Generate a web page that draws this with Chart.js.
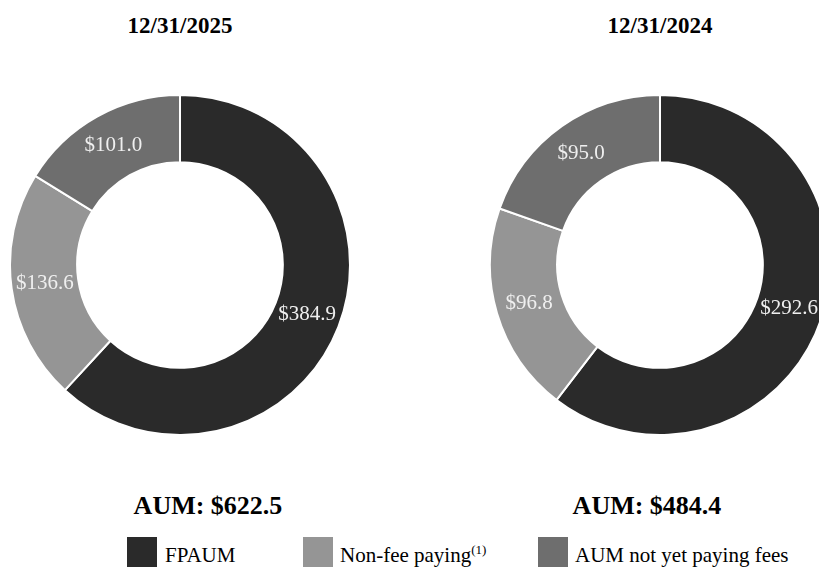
<!DOCTYPE html>
<html lang="en">
<head>
    <meta charset="UTF-8">
    <title>AUM breakdown</title>
    <script src="https://cdn.jsdelivr.net/npm/chart.js"></script>
    <style>
        body { margin: 0; background: #fff; }
        #wrap { position: relative; width: 819px; height: 567px; overflow: hidden; font-family: "Liberation Serif", "Times New Roman", serif; color: #000; }
        .abs { position: absolute; line-height: 1; white-space: nowrap; }
        .date { font-weight: bold; font-size: 23px; top: 14px; width: 200px; text-align: center; }
        .total { font-weight: bold; font-size: 26px; top: 493px; width: 240px; text-align: center; }
        .sw { position: absolute; top: 537px; width: 30px; height: 30px; }
        .lg { font-size: 21px; top: 545px; }
        .lg sup { font-size: 13px; vertical-align: 8px; line-height: 0; }
        canvas { position: absolute; top: 94px; }
    </style>
</head>
<body>
<div id="wrap">
    <div class="abs date" style="left: 80px;">12/31/2025</div>
    <div class="abs date" style="left: 560px;">12/31/2024</div>

    <canvas id="c2025" width="342" height="342" style="left: 9px;"></canvas>
    <canvas id="c2024" width="342" height="342" style="left: 489px;"></canvas>

    <div class="abs total" style="left: 88px;">AUM: $622.5</div>
    <div class="abs total" style="left: 527px;">AUM: $484.4</div>

    <div class="sw" style="left: 127px; background: #2a2a2a;"></div>
    <div class="abs lg" style="left: 165px;">FPAUM</div>
    <div class="sw" style="left: 303px; background: #959595;"></div>
    <div class="abs lg" style="left: 340px;">Non-fee paying<sup>(1)</sup></div>
    <div class="sw" style="left: 538px; background: #6e6e6e;"></div>
    <div class="abs lg" style="left: 575px;">AUM not yet paying fees</div>
</div>

<script>
    const categories = ['FPAUM', 'Non-fee paying', 'AUM not yet paying fees'];
    const values2025 = [384.9, 136.6, 101.0];
    const values2024 = [292.6, 96.8, 95.0];
    const colors = ['#2a2a2a', '#959595', '#6e6e6e'];

    // writes "$x.x" in the middle of each slice
    const sliceLabels = {
        id: 'sliceLabels',
        afterDatasetsDraw(chart) {
            const ctx = chart.ctx;
            const meta = chart.getDatasetMeta(0);
            const data = chart.data.datasets[0].data;
            ctx.save();
            ctx.font = '21px "Liberation Serif", serif';
            ctx.fillStyle = '#efefef';
            ctx.textAlign = 'center';
            ctx.textBaseline = 'middle';
            meta.data.forEach((arc, i) => {
                const p = arc.tooltipPosition();
                ctx.fillText('$' + data[i].toFixed(1), p.x, p.y);
            });
            ctx.restore();
        }
    };

    function donut(id, values) {
        new Chart(document.getElementById(id), {
            type: 'doughnut',
            data: {
                labels: categories,
                datasets: [{
                    data: values,
                    backgroundColor: colors,
                    borderColor: '#ffffff',
                    borderWidth: 2,
                    hoverOffset: 0,
                    offset: 0
                }]
            },
            options: {
                responsive: false,
                animation: false,
                cutout: '60.5%',
                layout: { padding: 0 },
                plugins: {
                    legend: { display: false },
                    tooltip: { enabled: false }
                }
            },
            plugins: [sliceLabels]
        });
    }

    donut('c2025', values2025);
    donut('c2024', values2024);
</script>
</body>
</html>
